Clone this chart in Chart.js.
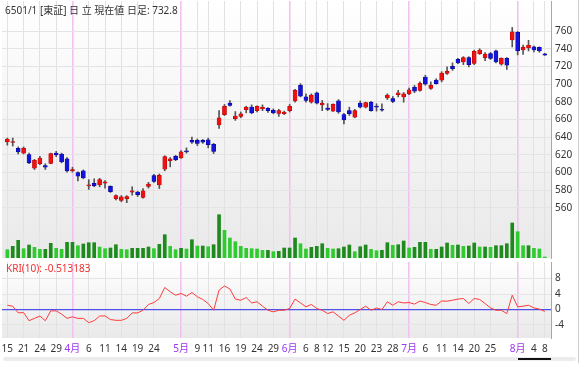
<!DOCTYPE html>
<html>
<head>
<meta charset="utf-8">
<script src="https://cdn.jsdelivr.net/npm/chart.js@4.4.1/dist/chart.umd.min.js"></script>
<style>
  html, body { margin: 0; padding: 0; background: #fff; }
  #wrap { position: relative; width: 580px; height: 365px; overflow: hidden;
          font-family: 'Noto Sans', 'Noto Sans CJK JP', sans-serif; }
  canvas { position: absolute; left: 0; }
  #priceChart { top: 0; }
  #kriChart { top: 260px; }
  .txt { position: absolute; font-size: 10px; line-height: 12px; white-space: nowrap; }
  #title { left: 5px; top: 4px; color: #333; }
  #kriTitle { left: 6px; top: 262px; color: #f23030; }
  #track { position: absolute; left: 3px; top: 357px; width: 573px; height: 4px; background: #ececec; border-radius: 2px; }
  #thumb { position: absolute; left: 518px; top: 358px; width: 33px; height: 2px; background: #111; }
  #edge { position: absolute; left: 578px; top: 0; width: 1px; height: 363px; background: #cfcfcf; }
</style>
</head>
<body>
<div id="wrap">
  <canvas id="priceChart" width="580" height="260"></canvas>
  <canvas id="kriChart" width="580" height="96"></canvas>
  <div id="title" class="txt">6501/1 [東証] 日 立 現在値 日足: 732.8</div>
  <div id="kriTitle" class="txt">KRI(10): -0.513183</div>
  <div id="track"></div>
  <div id="thumb"></div>
  <div id="edge"></div>
</div>
<script>
const dates = [
  '3/15','3/16','3/17','3/21','3/22','3/23','3/24','3/27','3/28','3/29','3/30','3/31',
  '4/3','4/4','4/5','4/6','4/7','4/10','4/11','4/12','4/13','4/14','4/17','4/18','4/19','4/20','4/21','4/24','4/25','4/26','4/27','4/28',
  '5/1','5/2','5/8','5/9','5/10','5/11','5/12','5/15','5/16','5/17','5/18','5/19','5/22','5/23','5/24','5/25','5/26','5/29','5/30','5/31',
  '6/1','6/2','6/5','6/6','6/7','6/8','6/9','6/12','6/13','6/14','6/15','6/16','6/19','6/20','6/21','6/22','6/23','6/26','6/27','6/28','6/29','6/30',
  '7/3','7/4','7/5','7/6','7/7','7/10','7/11','7/12','7/13','7/14','7/18','7/19','7/20','7/21','7/24','7/25','7/26','7/27','7/28','7/31',
  '8/1','8/2','8/3','8/4','8/7','8/8'
];

const opens = [
  634.7, 634, 627.5, 622, 620.5, 605, 610, 608, 610.5, 622,
  621, 615.5, 602, 600, 602, 585, 588, 586.5, 588, 584.5,
  570.5, 568.5, 570.5, 578, 578, 572, 584.5, 596.5, 586, 604,
  613.5, 618.5, 616.5, 624.5, 636.5, 636.5, 636.5, 637, 632, 654,
  665.5, 678.5, 661, 663.5, 671, 674, 670, 672, 672.5, 670.5,
  667, 666.5, 670, 681, 698.5, 685.5, 679.5, 690, 676.5, 673,
  669.5, 681, 665.5, 670, 662.5, 678.5, 674, 679.5, 675, 671,
  684.5, 683.5, 688, 685.5, 689, 696.5, 693, 708, 695, 704.5,
  704.5, 712, 720, 728, 725, 730, 723.5, 734.5, 730, 734.5,
  737.5, 722.5, 729, 750, 758.5, 738.5, 741, 742, 741.5, 734.3
];
const highs = [
  639, 639, 629, 629, 622, 615, 618.5, 610, 622, 624,
  622, 617, 606, 601, 603, 592, 593, 593.5, 591, 585,
  575, 574, 574, 584, 579, 582, 589, 598, 598.5, 619,
  617, 619.5, 625, 628, 640, 638, 637.5, 639, 633, 670,
  677, 681.5, 669, 668.5, 675, 676.5, 675.5, 676.5, 673.5, 672,
  671.5, 669.5, 677, 694, 700.5, 689, 689, 691, 681.5, 678,
  677.8, 682.5, 667, 674, 671.5, 681, 679.7, 680.5, 677.8, 677.8,
  689, 686, 693, 690.5, 695.5, 698.5, 702.5, 710, 702.5, 706,
  714, 719.5, 724, 729, 731, 731, 738.4, 740, 735.5, 735.8,
  738.5, 729.7, 730, 764, 759.5, 744, 749.5, 743, 742, 734.8
];
const lows = [
  631, 630, 621, 621, 610, 603.5, 609, 603.5, 610, 618,
  611, 600.5, 600.5, 590.5, 593, 581, 584, 584, 582.5, 577.5,
  569, 567, 566, 574.5, 573, 571, 582.5, 589, 582, 602,
  606.5, 613.5, 616, 622, 633, 630.5, 633, 628, 621.5, 650,
  664.5, 675, 659, 662, 667.5, 666.5, 668.5, 670, 668, 666.5,
  663.5, 665.5, 668.5, 679.5, 685.5, 679.5, 678.5, 677.5, 670, 670,
  669, 667, 655, 664.5, 662, 673, 673, 669.5, 669.5, 669.5,
  682.5, 679, 685.5, 679.5, 688, 690.3, 692, 698.7, 694, 700,
  702.5, 711, 715.5, 723, 722, 719.5, 722, 733.5, 726.5, 727.8,
  724, 721.4, 716.5, 742, 733, 733.5, 737.5, 736.5, 736, 732.5
];
const closes = [
  638, 634.5, 623.5, 627.5, 611, 614, 616.5, 606, 621.5, 620,
  612, 602, 603.5, 596, 594, 586, 585, 592, 589.5, 578.5,
  574, 572.5, 573, 579.5, 575, 579.5, 587, 590, 597, 618,
  615.5, 614.5, 623.5, 623.5, 634.5, 633, 634.5, 631.5, 624, 662,
  675, 676, 664, 666.5, 674, 667.5, 675, 674, 670, 667.5,
  670, 668.5, 675, 693, 686.5, 681.5, 687.5, 678.5, 678.5, 671.5,
  677, 668.5, 659.5, 666.5, 670, 674, 679, 670, 674, 670.5,
  687.5, 680.5, 690, 689, 693.5, 692, 701, 700, 698.5, 700.5,
  712.5, 714.5, 717.5, 724, 730, 722, 737, 738.5, 734, 729,
  725, 729, 721.5, 759, 737.5, 741.5, 744, 738.5, 737.5, 732.8
];

// 出来高 (万株)
const volumes = [
  830, 1170, 1770, 930, 1300, 1070, 870, 870, 1470, 970,
  870, 1570, 1570, 1230, 1400, 1530, 1530, 1100, 930, 1000,
  1330, 870, 830, 970, 970, 970, 1100, 930, 1370, 2330,
  1170, 830, 970, 900, 1830, 1200, 1200, 1130, 1330, 4330,
  2770, 2000, 1630, 1170, 970, 930, 900, 770, 770, 630,
  670, 1000, 1000, 2000, 1430, 900, 1070, 1170, 1430, 970,
  900, 930, 1100, 1300, 630, 1130, 1300, 870, 730, 770,
  1530, 1270, 1330, 1700, 1000, 1070, 1570, 1570, 870, 870,
  1100, 1500, 1270, 1300, 1170, 1200, 1500, 1100, 1100, 1070,
  1230, 1230, 1430, 3500, 2630, 1230, 1230, 970, 900, 100
];

const kri = [
  1.1, 0.86, -0.87, -0.8, -2.9, -2.3, -1.7, -2.9, -0.35, -0.35,
  -1.2, -2.3, -1.9, -2.3, -2.3, -3.4, -2.9, -1.7, -1.65, -2.6,
  -2.8, -2.8, -2.3, -0.87, -0.87, -0.2, 1.3, 1.8, 2.85, 5.7,
  4.6, 3.7, 4.15, 3.45, 4.4, 3.3, 2.6, 1.55, -0.2, 5.0,
  6.1, 5.3, 2.7, 2.4, 3.1, 1.7, 2.0, 0.86, -0.2, -0.6,
  -0.2, -0.2, 0.26, 2.7, 1.7, 0.7, 1.3, 0.26, -0.2, -1.05,
  -0.6, -1.7, -2.8, -1.5, -0.87, 0, 0.86, -0.2, 0.4, 0,
  2.0, 1.1, 2.0, 1.7, 1.8, 1.4, 2.2, 1.8, 1.3, 1.1,
  2.2, 2.15, 2.4, 2.7, 2.85, 1.55, 2.85, 2.6, 1.55, 0.4,
  -0.2, -0.2, -1.05, 3.7, 0.7, 0.86, 1.1, 0.4, 0.1, -0.513183
];

const tickIdx = [0, 3, 6, 9, 12, 15, 18, 21, 24, 27, 32, 35, 37, 40, 43, 46, 49,
                 52, 55, 57, 59, 62, 65, 68, 71, 74, 77, 80, 83, 86, 89, 94, 97, 99];
const priceTicks = [560, 580, 600, 620, 640, 660, 680, 700, 720, 740, 760];
const kriTicks = [-4, 0, 4, 8];

const monthOf = (i) => dates[i].split('/')[0];
const isMonthStart = (i) => i > 0 && monthOf(i) !== monthOf(i - 1);
const tickText = (i) => isMonthStart(i) ? monthOf(i) + '月' : dates[i].split('/')[1];

const FONT = { family: "'Noto Sans', 'Noto Sans CJK JP', sans-serif", size: 10 };

const panelBg = {
    id: 'panelBg',
    beforeDraw(chart) {
        const { ctx, chartArea: a } = chart;
        const g = ctx.createLinearGradient(0, a.top, 0, a.bottom);
        g.addColorStop(0, '#ffffff');
        g.addColorStop(1, '#e9e9e9');
        ctx.save();
        ctx.fillStyle = g;
        ctx.fillRect(a.left, a.top, a.right - a.left, a.bottom - a.top);
        ctx.restore();
    }
};

// ラベル分の自動余白を消して、描画領域を固定する
const noPad = (ax) => {
    ax.paddingTop = 0;
    ax.paddingBottom = 0;
    ax.paddingLeft = 0;
    ax.paddingRight = 0;
};

const xAxis = (showLabels, h) => ({
    type: 'linear',
    min: -0.98,
    max: 100.14,
    offset: false,
    afterBuildTicks: (ax) => { ax.ticks = tickIdx.map(v => ({ value: v })); },
    afterFit: (ax) => { ax.height = h; noPad(ax); },
    grid: {
        offset: false,
        drawTicks: false,
        color: (c) => isMonthStart(c.tick.value) ? '#f2c2f2' : '#e2e2e2',
        lineWidth: (c) => isMonthStart(c.tick.value) ? 1.6 : 1
    },
    border: { display: false },
    ticks: {
        display: showLabels,
        autoSkip: false,
        maxRotation: 0,
        padding: 5,
        font: FONT,
        color: (c) => isMonthStart(c.tick.value) ? '#9a35f0' : '#333',
        callback: (v) => tickText(v)
    }
});

const idx = dates.map((d, i) => i);

new Chart(document.getElementById('priceChart'), {
    type: 'bar',
    data: {
        datasets: [
            {
                // ローソク足の実体
                data: idx.map(i => ({ x: i, y: [opens[i], closes[i]] })),
                yAxisID: 'y',
                grouped: false,
                barThickness: 4,
                minBarLength: 1,
                order: 0,
                backgroundColor: (c) => closes[c.dataIndex] >= opens[c.dataIndex] ? '#ee1111' : '#1414d8',
                borderColor: (c) => closes[c.dataIndex] >= opens[c.dataIndex] ? '#b00000' : '#000090',
                borderWidth: 0.5,
                borderSkipped: false
            },
            {
                // ヒゲ
                data: idx.map(i => ({ x: i, y: [lows[i], highs[i]] })),
                yAxisID: 'y',
                grouped: false,
                barThickness: 1,
                order: 1,
                backgroundColor: '#555'
            },
            {
                // 出来高
                data: idx.map(i => ({ x: i, y: volumes[i] })),
                yAxisID: 'yVol',
                grouped: false,
                barThickness: 3,
                order: 2,
                backgroundColor: (c) => {
                    const i = c.dataIndex;
                    return i > 0 && volumes[i] >= volumes[i - 1] ? '#1e8a1e' : '#2fcb2f';
                }
            }
        ]
    },
    options: {
        responsive: false,
        animation: false,
        events: [],
        layout: { autoPadding: false, padding: { left: 2, top: 1, bottom: 2, right: 0 } },
        plugins: { legend: { display: false }, tooltip: { enabled: false } },
        scales: {
            x: xAxis(false, 0),
            y: {
                position: 'right',
                min: 503.5,
                max: 793.9,
                afterBuildTicks: (ax) => { ax.ticks = priceTicks.map(v => ({ value: v })); },
                afterFit: (ax) => { ax.width = 29; noPad(ax); },
                grid: { color: '#e4e4e4', drawTicks: false },
                border: { display: true, color: '#a8a8a8' },
                ticks: { padding: 4, font: FONT, color: '#333' }
            },
            yVol: {
                display: false,
                min: 0,
                max: 25700
            }
        }
    },
    plugins: [panelBg]
});

new Chart(document.getElementById('kriChart'), {
    type: 'line',
    data: {
        datasets: [{
            data: idx.map(i => ({ x: i, y: kri[i] })),
            borderColor: '#ff3b3b',
            borderWidth: 1,
            pointRadius: 0,
            tension: 0
        }]
    },
    options: {
        responsive: false,
        animation: false,
        events: [],
        layout: { autoPadding: false, padding: { left: 2, top: 2, bottom: 0, right: 0 } },
        plugins: { legend: { display: false }, tooltip: { enabled: false } },
        scales: {
            x: xAxis(true, 18),
            y: {
                position: 'right',
                min: -7.38,
                max: 12.3,
                afterBuildTicks: (ax) => { ax.ticks = kriTicks.map(v => ({ value: v })); },
                afterFit: (ax) => { ax.width = 29; noPad(ax); },
                grid: {
                    drawTicks: false,
                    color: (c) => c.tick.value === 0 ? '#5050e6' : '#e4e4e4',
                    lineWidth: (c) => c.tick.value === 0 ? 1.2 : 1
                },
                border: { display: true, color: '#a8a8a8' },
                ticks: { padding: 4, font: FONT, color: '#333' }
            }
        }
    },
    plugins: [panelBg]
});
</script>
</body>
</html>
